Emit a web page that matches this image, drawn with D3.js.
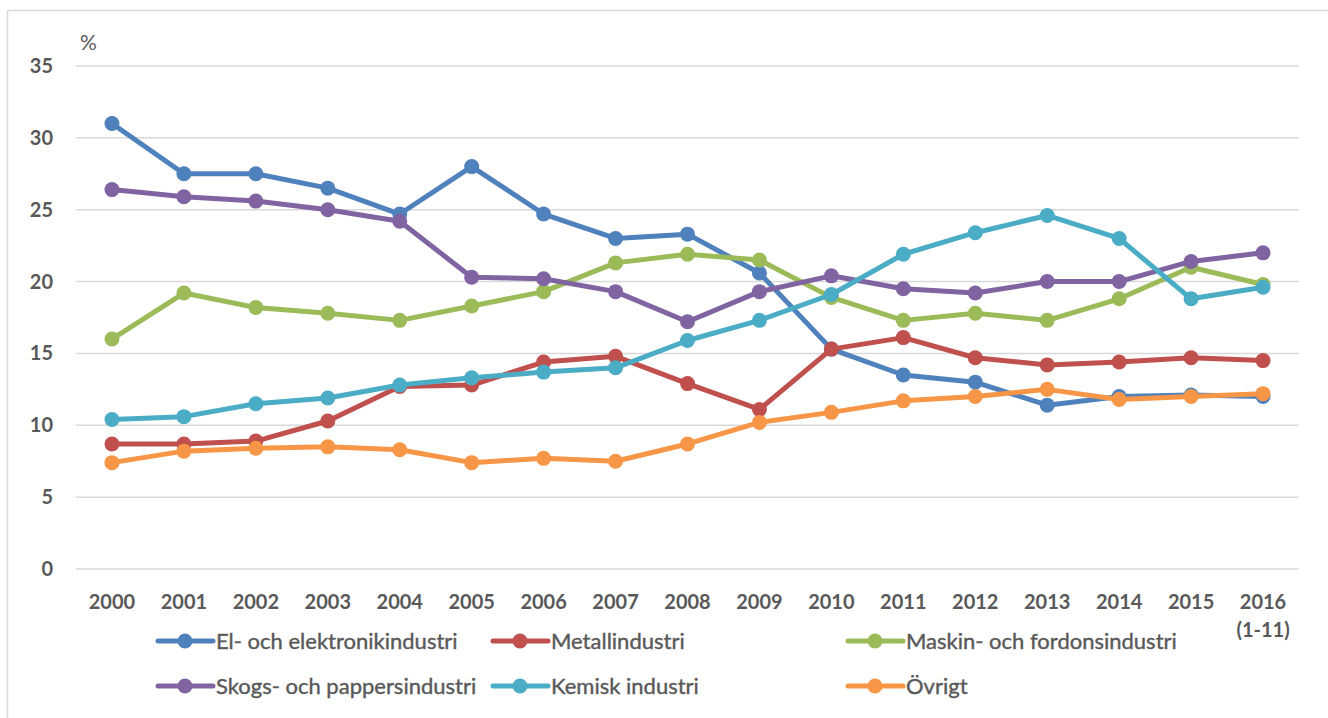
<!DOCTYPE html>
<html>
<head>
<meta charset="utf-8">
<script src="https://cdn.jsdelivr.net/npm/d3@7"></script>
<style>
  body { margin: 0; background: #fff; }
  svg text { font-family: Lato, "Open Sans", sans-serif; fill: #595959; }
</style>
</head>
<body>
<div id="chart"></div>
<script>
// years on the x axis (last one is a partial year)
var years = ["2000","2001","2002","2003","2004","2005","2006","2007","2008",
             "2009","2010","2011","2012","2013","2014","2015","2016"];
var yTicks = [0, 5, 10, 15, 20, 25, 30, 35];

var seriesNames = ["El- och elektronikindustri", "Metallindustri", "Maskin- och fordonsindustri",
                   "Skogs- och pappersindustri", "Kemisk industri", "Övrigt"];
var seriesColors = ["#4f81bd", "#c0504d", "#9bbb59", "#8064a2", "#4bacc6", "#f79646"];

var elValues     = [31.0, 27.5, 27.5, 26.5, 24.7, 28.0, 24.7, 23.0, 23.3, 20.6, 15.3, 13.5, 13.0, 11.4, 12.0, 12.1, 12.0];
var metallValues = [8.7, 8.7, 8.9, 10.3, 12.7, 12.8, 14.4, 14.8, 12.9, 11.1, 15.3, 16.1, 14.7, 14.2, 14.4, 14.7, 14.5];
var maskinValues = [16.0, 19.2, 18.2, 17.8, 17.3, 18.3, 19.3, 21.3, 21.9, 21.5, 18.9, 17.3, 17.8, 17.3, 18.8, 21.0, 19.8];
var skogValues   = [26.4, 25.9, 25.6, 25.0, 24.2, 20.3, 20.2, 19.3, 17.2, 19.3, 20.4, 19.5, 19.2, 20.0, 20.0, 21.4, 22.0];
var kemiskValues = [10.4, 10.6, 11.5, 11.9, 12.8, 13.3, 13.7, 14.0, 15.9, 17.3, 19.1, 21.9, 23.4, 24.6, 23.0, 18.8, 19.6];
var ovrigtValues = [7.4, 8.2, 8.4, 8.5, 8.3, 7.4, 7.7, 7.5, 8.7, 10.2, 10.9, 11.7, 12.0, 12.5, 11.8, 12.0, 12.2];

var allValues = [elValues, metallValues, maskinValues, skogValues, kemiskValues, ovrigtValues];

var W = 1328, H = 718;
var margin = { top: 66, left: 76, right: 29, bottom: 149 };

var svg = d3.select("#chart").append("svg")
    .attr("width", W)
    .attr("height", H);

// chart frame (only left and top edges are visible in the shot)
svg.append("rect")
    .attr("x", 7.5).attr("y", 10.5)
    .attr("width", W + 10).attr("height", H + 10)
    .attr("fill", "none")
    .attr("stroke", "#d9d9d9")
    .attr("stroke-width", 1.5);

var x = d3.scaleBand()
    .domain(years)
    .range([margin.left, W - margin.right]);

var y = d3.scaleLinear()
    .domain([0, 35])
    .range([H - margin.bottom, margin.top]);

// horizontal grid
svg.append("g")
    .selectAll("line")
    .data(yTicks)
    .enter().append("line")
    .attr("x1", margin.left)
    .attr("x2", W - margin.right)
    .attr("y1", function(d) { return y(d); })
    .attr("y2", function(d) { return y(d); })
    .attr("stroke", "#d9d9d9")
    .attr("stroke-width", 1.5);

// y tick labels
svg.append("g")
    .selectAll("text")
    .data(yTicks)
    .enter().append("text")
    .attr("x", 53)
    .attr("y", function(d) { return y(d) + 7; })
    .attr("text-anchor", "end")
    .style("font-size", "20px")
    .style("font-weight", "bold")
    .text(function(d) { return d; });

svg.append("text")
    .attr("x", 80)
    .attr("y", 50)
    .style("font-size", "21px")
    .text("%");

// x tick labels
svg.append("g")
    .selectAll("text")
    .data(years)
    .enter().append("text")
    .attr("x", function(d) { return x(d) + x.bandwidth() / 2; })
    .attr("y", 609)
    .attr("text-anchor", "middle")
    .style("font-size", "20px")
    .style("font-weight", "bold")
    .text(function(d) { return d; });

svg.append("text")
    .attr("x", x("2016") + x.bandwidth() / 2)
    .attr("y", 637)
    .attr("text-anchor", "middle")
    .style("font-size", "20px")
    .style("font-weight", "bold")
    .text("(1-11)");

var line = d3.line()
    .x(function(d, i) { return x(years[i]) + x.bandwidth() / 2; })
    .y(function(d) { return y(d); });

var series = svg.append("g")
    .selectAll("g")
    .data(allValues)
    .enter().append("g");

series.append("path")
    .attr("d", function(d) { return line(d); })
    .attr("fill", "none")
    .attr("stroke", function(d, i) { return seriesColors[i]; })
    .attr("stroke-width", 5)
    .attr("stroke-linejoin", "round");

series.each(function(vals, i) {
    d3.select(this).selectAll("circle")
        .data(vals)
        .enter().append("circle")
        .attr("cx", function(d, j) { return x(years[j]) + x.bandwidth() / 2; })
        .attr("cy", function(d) { return y(d); })
        .attr("r", 7.5)
        .attr("fill", seriesColors[i]);
});

// legend, 3 per row
var legendX = [158, 493, 848];
var legendY = [641, 686];

var legend = svg.append("g")
    .selectAll("g")
    .data(seriesNames)
    .enter().append("g")
    .attr("transform", function(d, i) {
        return "translate(" + legendX[i % 3] + "," + legendY[Math.floor(i / 3)] + ")";
    });

legend.append("line")
    .attr("x1", 0).attr("x2", 55)
    .attr("y1", 0).attr("y2", 0)
    .attr("stroke", function(d, i) { return seriesColors[i]; })
    .attr("stroke-width", 5)
    .attr("stroke-linecap", "round");

legend.append("circle")
    .attr("cx", 27).attr("cy", 0).attr("r", 7.5)
    .attr("fill", function(d, i) { return seriesColors[i]; });

legend.append("text")
    .attr("x", 58)
    .attr("y", 8)
    .style("font-size", "22px")
    .style("stroke", "#595959")
    .style("stroke-width", 0.4)
    .text(function(d) { return d; });
</script>
</body>
</html>
